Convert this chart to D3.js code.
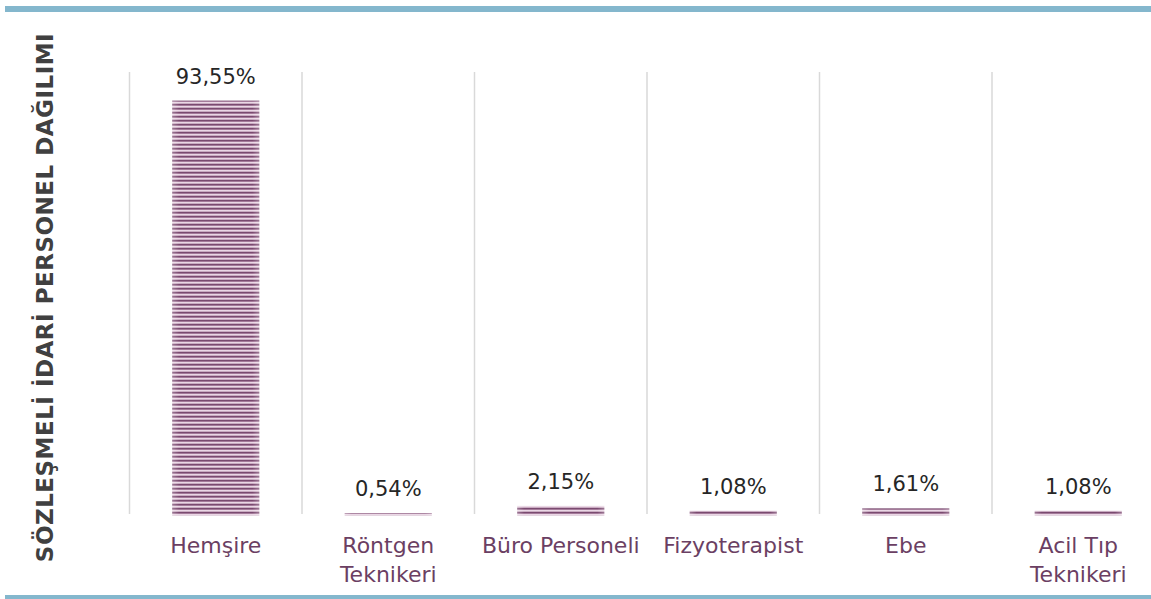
<!DOCTYPE html>
<html>
<head>
<meta charset="utf-8">
<script src="https://cdn.jsdelivr.net/npm/d3@7"></script>
<style>
  html, body { margin: 0; padding: 0; background: #ffffff; }
  svg { display: block; }
</style>
</head>
<body>
<svg id="chart" width="1151" height="599"></svg>
<script>
// ---- data ----
const categories = ["Hemşire", "Röntgen\nTeknikeri", "Büro Personeli", "Fizyoterapist", "Ebe", "Acil Tıp\nTeknikeri"];
const values = [0.9355, 0.0054, 0.0215, 0.0108, 0.0161, 0.0108];
const valueLabels = ["93,55%", "0,54%", "2,15%", "1,08%", "1,61%", "1,08%"];
const axisTitle = "SÖZLEŞMELİ İDARİ PERSONEL DAĞILIMI";

const W = 1151, H = 599;
const svg = d3.select("#chart");
const FONT = "'DejaVu Sans', sans-serif";

// pattern for striped bars
const defs = svg.append("defs");
const pat = defs.append("pattern")
  .attr("id", "stripes").attr("patternUnits", "userSpaceOnUse")
  .attr("width", 8).attr("height", 4);
const stripeCols = ["#7a4a70", "#a47a9a", "#ead7e5", "#c9abc1"];
stripeCols.forEach((c, i) => pat.append("rect").attr("x", 0).attr("y", i).attr("width", 8).attr("height", 1).attr("fill", c));
const edge = defs.append("linearGradient").attr("id", "edge").attr("x1", 0).attr("x2", 1).attr("y1", 0).attr("y2", 0);
[[0, 0.25], [0.08, 0], [0.92, 0], [1, 0.25]].forEach(([o, a]) =>
  edge.append("stop").attr("offset", o).attr("stop-color", "#ffffff").attr("stop-opacity", a));

// frame lines
svg.append("rect").attr("x", 5).attr("y", 6).attr("width", W - 5).attr("height", 6).attr("fill", "#84b7cd");
svg.append("rect").attr("x", 5).attr("y", 595).attr("width", W - 5).attr("height", 4).attr("fill", "#84b7cd");

// scales
const x = d3.scaleBand().domain(d3.range(categories.length)).range([129.5, 1164.5]).paddingInner(0).paddingOuter(0);
const y = d3.scaleLinear().domain([0, 1]).range([515.5, 72]);

// gridlines (vertical category separators)
const g = svg.append("g");
g.selectAll("line.grid").data(d3.range(categories.length + 1)).join("line")
  .attr("class", "grid")
  .attr("x1", i => i < categories.length ? x(i) : x.range()[1])
  .attr("x2", i => i < categories.length ? x(i) : x.range()[1])
  .attr("y1", y(1)).attr("y2", y(0) - 1.5)
  .attr("stroke", "#d9d9d9").attr("stroke-width", 1.5);

// bars
const bw = x.bandwidth() * 0.505;
const bars = g.selectAll("g.bar").data(values).join("g").attr("class", "bar");
bars.append("rect")
  .attr("x", (d, i) => x(i) + (x.bandwidth() - bw) / 2)
  .attr("y", d => y(d))
  .attr("width", bw)
  .attr("height", d => y(0) - y(d))
  .attr("fill", "url(#stripes)");
bars.append("rect")
  .attr("x", (d, i) => x(i) + (x.bandwidth() - bw) / 2)
  .attr("y", d => y(d))
  .attr("width", bw)
  .attr("height", d => y(0) - y(d))
  .attr("fill", "url(#edge)");

// value labels
g.selectAll("text.val").data(values).join("text")
  .attr("class", "val")
  .attr("x", (d, i) => x(i) + x.bandwidth() / 2)
  .attr("y", d => y(d) - 17)
  .attr("text-anchor", "middle")
  .attr("font-family", FONT).attr("font-size", 21)
  .attr("fill", "#262626")
  .text((d, i) => valueLabels[i]);

// category labels
const cat = g.selectAll("text.cat").data(categories).join("text")
  .attr("class", "cat")
  .attr("text-anchor", "middle")
  .attr("font-family", FONT).attr("font-size", 22)
  .attr("fill", "#6b3f63");
cat.each(function (d, i) {
  const t = d3.select(this);
  d.split("\n").forEach((line, k) => {
    t.append("tspan").attr("x", x(i) + x.bandwidth() / 2).attr("y", 553 + k * 29).text(line);
  });
});

// axis title
svg.append("text")
  .attr("transform", "translate(53," + ((33 + 562) / 2) + ") rotate(-90)")
  .attr("text-anchor", "middle")
  .attr("font-family", FONT).attr("font-size", 23).attr("font-weight", "bold")
  .attr("letter-spacing", 0.5)
  .attr("fill", "#404040")
  .text(axisTitle);
</script>
</body>
</html>
